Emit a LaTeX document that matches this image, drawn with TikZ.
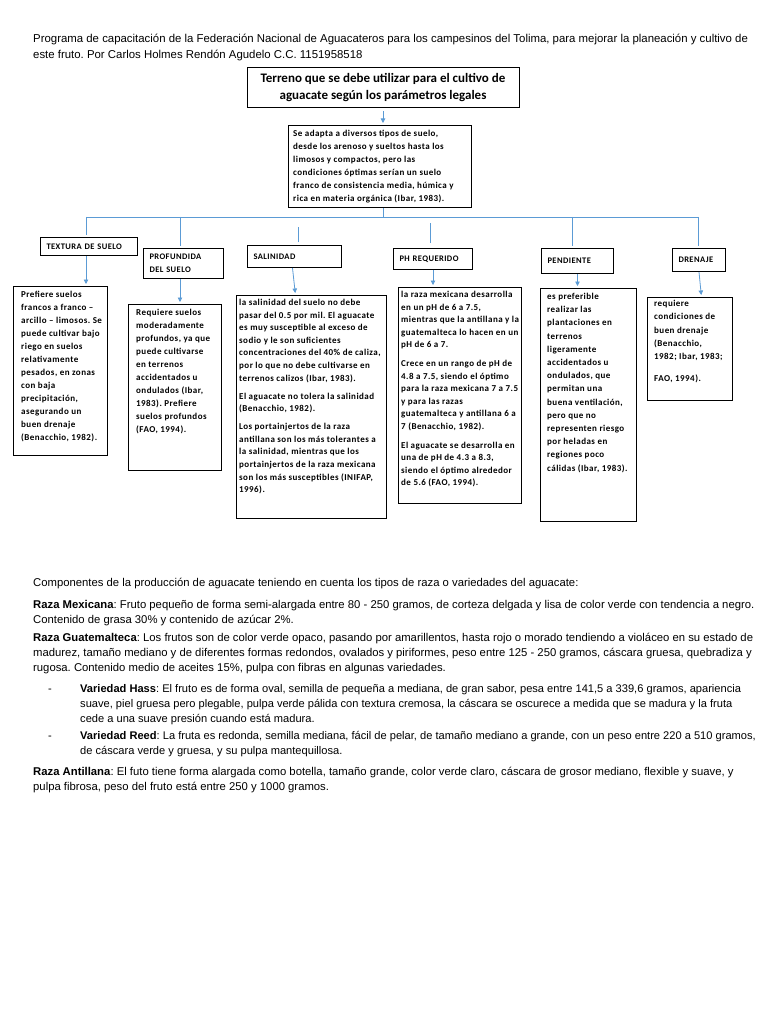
\documentclass[tikz,border=0pt]{standalone}
\usepackage{fontspec}
\setmainfont{Liberation Sans}
\newfontfamily\calibri{Carlito}
\newfontfamily\calibrisp[LetterSpace=5]{Carlito}
\usetikzlibrary{calc, positioning, arrows.meta}
\frenchspacing

\definecolor{linkblue}{RGB}{91,155,213}

\tikzset{
  link/.style={draw=linkblue, line width=0.8pt},
  tip/.style={link, -{Triangle[width=4.5pt,length=4.5pt]}, shorten >=2pt},
  titlebox/.style={draw, line width=1pt, minimum width=272, minimum height=40, align=center,
    font=\calibri\bfseries\fontsize{13}{17}\selectfont},
  headbox/.style={draw, line width=1pt, anchor=north west, inner xsep=6pt, inner ysep=0pt, align=left,
    font=\calibrisp\bfseries\fontsize{8.5}{13}\selectfont},
  txtbox/.style={draw, line width=0.9pt, anchor=north west, inner sep=0pt},
  boxtext/.style={anchor=north west, inner sep=0pt, align=left,
    font=\calibrisp\bfseries\fontsize{9}{13}\selectfont},
  bodytext/.style={anchor=base west, inner sep=0pt, align=left,
    font=\fontsize{11.3}{15}\selectfont},
  itemtext/.style={bodytext, font=\fontsize{11.1}{15}\selectfont},
}

\begin{document}
\begin{tikzpicture}[x=1pt, y=-1pt]
\useasboundingbox[fill=white] (0,0) rectangle (768,1024);

% Header (base anchor sits on the last line)
\node[bodytext, font=\fontsize{11.4}{16}\selectfont] (header) at (33,59) {Programa de capacitación de la Federación Nacional de Aguacateros para los campesinos del Tolima, para mejorar la planeación y cultivo de\\este fruto. Por Carlos Holmes Rendón Agudelo C.C. 1151958518};

% Title and summary
\node[titlebox] (title) at (383,88) {Terreno que se debe utilizar para el cultivo de\\aguacate según los parámetros legales};
\node[txtbox, minimum width=183, minimum height=82] (suelo) at (288,125) {};
\node[boxtext] (suelotxt) at ([shift={(5,5)}]suelo.north west) {Se adapta a diversos tipos de suelo,\\desde los arenoso y sueltos hasta los\\limosos y compactos, pero las\\condiciones óptimas serían un suelo\\franco de consistencia media, húmica y\\rica en materia orgánica (Ibar, 1983).};
\draw[tip, shorten <=3pt] (title.south) -- (title.south |- suelo.north);

% Parameter labels
\node[headbox, text width=85, minimum height=18] (textura) at (40,237) {TEXTURA DE SUELO};
\node[headbox, text width=68, minimum height=30] (profundidad) at (143,248) {PROFUNDIDA\\DEL SUELO};
\node[headbox, text width=82, minimum height=22] (salinidad) at (247,245) {SALINIDAD};
\node[headbox, text width=67, minimum height=21] (ph) at (393,248) {PH REQUERIDO};
\node[headbox, text width=60, minimum height=25] (pendiente) at (541,248) {PENDIENTE};
\node[headbox, text width=41, minimum height=23] (drenaje) at (672,248) {DRENAJE};

% Bus from the summary to the labels
\coordinate (bus) at (383,217);
\coordinate (busL) at (86,217);
\coordinate (busR) at (698,217);
\draw[link] (bus |- suelo.south) -- (bus);
\draw[link] (busL) -- (busR);
\foreach \x/\n in {86/textura, 180/profundidad, 572/pendiente, 698/drenaje}
  \draw[link, shorten >=2.5pt] (\x,217) -- (\x,217 |- \n.north);
\draw[link] ([shift={(4,-3)}]salinidad.north) -- ++(0,-15);
\draw[link] ([shift={(-2.5,-5)}]ph.north) -- ++(0,-20);

% Text boxes
\node[txtbox, minimum width=94, minimum height=169] (texturabox) at (13,286) {};
\node[boxtext] (texturatxt) at ([shift={(8,5)}]texturabox.north west) {Prefiere suelos\\francos a franco –\\arcillo – limosos. Se\\puede cultivar bajo\\riego en suelos\\relativamente\\pesados, en zonas\\con baja\\precipitación,\\asegurando un\\buen drenaje\\(Benacchio, 1982).};

\node[txtbox, minimum width=93, minimum height=166] (profundidadbox) at (128,304) {};
\node[boxtext] (profundidadtxt) at ([shift={(8,5)}]profundidadbox.north west) {Requiere suelos\\moderadamente\\profundos, ya que\\puede cultivarse\\en terrenos\\accidentados u\\ondulados (Ibar,\\1983). Prefiere\\suelos profundos\\(FAO, 1994).};

\node[txtbox, minimum width=150, minimum height=223] (salinidadbox) at (236,295) {};
\node[boxtext, font=\calibrisp\bfseries\fontsize{9}{12.6}\selectfont] (salinidadtxt) at ([shift={(3,4)}]salinidadbox.north west) {la salinidad del suelo no debe\\pasar del 0.5 por mil. El aguacate\\es muy susceptible al exceso de\\sodio y le son suficientes\\concentraciones del 40\% de caliza,\\por lo que no debe cultivarse en\\terrenos calizos (Ibar, 1983).\\[5.4pt]El aguacate no tolera la salinidad\\(Benacchio, 1982).\\[5.4pt]Los portainjertos de la raza\\antillana son los más tolerantes a\\la salinidad, mientras que los\\portainjertos de la raza mexicana\\son los más susceptibles (INIFAP,\\1996).};

\node[txtbox, minimum width=123, minimum height=216] (phbox) at (398,287) {};
\node[boxtext, font=\calibrisp\bfseries\fontsize{9}{12.5}\selectfont] (phtxt) at ([shift={(3,4)}]phbox.north west) {la raza mexicana desarrolla\\en un pH de 6 a 7.5,\\mientras que la antillana y la\\guatemalteca lo hacen en un\\pH de 6 a 7.\\[6.5pt]Crece en un rango de pH de\\4.8 a 7.5, siendo el óptimo\\para la raza mexicana 7 a 7.5\\y para las razas\\guatemalteca y antillana 6 a\\7 (Benacchio, 1982).\\[6.5pt]El aguacate se desarrolla en\\una de pH de 4.3 a 8.3,\\siendo el óptimo alrededor\\de 5.6 (FAO, 1994).};

\node[txtbox, minimum width=96, minimum height=233] (pendientebox) at (540,288) {};
\node[boxtext, font=\calibrisp\bfseries\fontsize{9}{13.2}\selectfont] (pendientetxt) at ([shift={(7,5)}]pendientebox.north west) {es preferible\\realizar las\\plantaciones en\\terrenos\\ligeramente\\accidentados u\\ondulados, que\\permitan una\\buena ventilación,\\pero que no\\representen riesgo\\por heladas en\\regiones poco\\cálidas (Ibar, 1983).};

\node[txtbox, minimum width=85, minimum height=103] (drenajebox) at (647,297) {};
\node[boxtext, font=\calibrisp\bfseries\fontsize{9}{13.3}\selectfont] (drenajetxt) at ([shift={(7,3)}]drenajebox.north west) {requiere\\condiciones de\\buen drenaje\\(Benacchio,\\1982; Ibar, 1983;\\[8.4pt]FAO, 1994).};

% Arrows from labels to text boxes
\draw[tip] (busL |- textura.south) -- (busL |- texturabox.north);
\draw[tip] (180,0 |- profundidad.south) -- (180,0 |- profundidadbox.north);
\draw[tip] ([xshift=-2]salinidad.south) -- ([xshift=-16]salinidadbox.north);
\draw[tip] (ph.south) -- (ph.south |- phbox.north);
\draw[tip] (pendiente.south) -- (pendiente.south |- pendientebox.north);
\draw[tip] (drenaje.south) -- ([xshift=11.5]drenajebox.north);

% Components of avocado production (base anchor = last line)
\node[bodytext] (intro) at (33,586) {Componentes de la producción de aguacate teniendo en cuenta los tipos de raza o variedades del aguacate:};
\node[bodytext] (mexicana) at (33,623) {\textbf{Raza Mexicana}: Fruto pequeño de forma semi-alargada entre 80 - 250 gramos, de corteza delgada y lisa de color verde con tendencia a negro.\\Contenido de grasa 30\% y contenido de azúcar 2\%.};
\node[bodytext] (guatemalteca) at (33,671) {\textbf{Raza Guatemalteca}: Los frutos son de color verde opaco, pasando por amarillentos, hasta rojo o morado tendiendo a violáceo en su estado de\\madurez, tamaño mediano y de diferentes formas redondos, ovalados y piriformes, peso entre 125 - 250 gramos, cáscara gruesa, quebradiza y\\rugosa. Contenido medio de aceites 15\%, pulpa con fibras en algunas variedades.};
\node[itemtext] (dashhass) at (48,692) {-};
\node[itemtext] (hass) at (80,722) {\textbf{Variedad Hass}: El fruto es de forma oval, semilla de pequeña a mediana, de gran sabor, pesa entre 141,5 a 339,6 gramos, apariencia\\suave, piel gruesa pero plegable, pulpa verde pálida con textura cremosa, la cáscara se oscurece a medida que se madura y la fruta\\cede a una suave presión cuando está madura.};
\node[itemtext] (dashreed) at (48,739) {-};
\node[itemtext] (reed) at (80,754) {\textbf{Variedad Reed}: La fruta es redonda, semilla mediana, fácil de pelar, de tamaño mediano a grande, con un peso entre 220 a 510 gramos,\\de cáscara verde y gruesa, y su pulpa mantequillosa.};
\node[bodytext] (antillana) at (33,790) {\textbf{Raza Antillana}: El futo tiene forma alargada como botella, tamaño grande, color verde claro, cáscara de grosor mediano, flexible y suave, y\\pulpa fibrosa, peso del fruto está entre 250 y 1000 gramos.};
\end{tikzpicture}
\end{document}
